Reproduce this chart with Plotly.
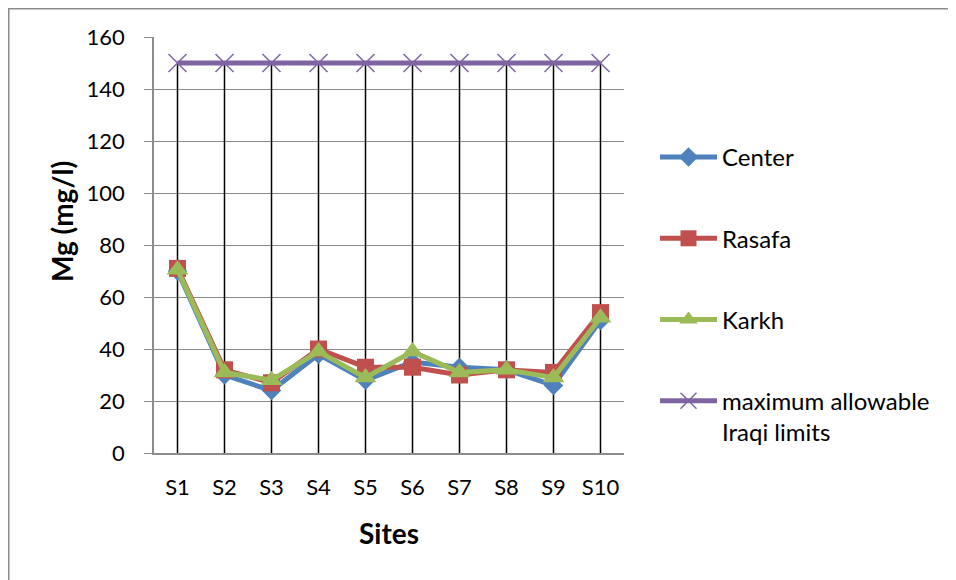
import plotly.graph_objects as go

sites = ["S1", "S2", "S3", "S4", "S5", "S6", "S7", "S8", "S9", "S10"]
center = [70, 30, 24, 38, 28, 35, 33, 32, 26, 51]
rasafa = [71, 32, 27, 40, 33, 33, 30, 32, 31, 54]
karkh = [70.5, 31, 28, 39, 29, 39, 31, 32, 29, 52]
limit = [150] * 10
yticks = [0, 20, 40, 60, 80, 100, 120, 140, 160]

FONT = "Lato"
GRID = "#8c8c8c"

fig = go.Figure()

# drop lines (from axis up to the highest value at each site)
dx, dy = [], []
for s, hi in zip(sites, [max(a, b, c, d) for a, b, c, d in zip(center, rasafa, karkh, limit)]):
    dx += [s, s, None]
    dy += [0, hi, None]
fig.add_trace(go.Scatter(x=dx, y=dy, mode="lines", line=dict(color="black", width=1.5),
                         showlegend=False, hoverinfo="skip"))

fig.add_trace(go.Scatter(x=sites, y=center, name="Center", mode="lines+markers",
                         line=dict(color="#4F81BD", width=5),
                         marker=dict(symbol="diamond", size=15, color="#4F81BD"),
                         legendgroup="a"))
fig.add_trace(go.Scatter(x=sites, y=rasafa, name="Rasafa", mode="lines+markers",
                         line=dict(color="#C0504D", width=5),
                         marker=dict(symbol="square", size=17, color="#C0504D"),
                         legendgroup="b"))
fig.add_trace(go.Scatter(x=sites, y=karkh, name="Karkh", mode="lines+markers",
                         line=dict(color="#9BBB59", width=5),
                         marker=dict(symbol="triangle-up", size=19, color="#9BBB59"),
                         legendgroup="c"))
fig.add_trace(go.Scatter(x=sites, y=limit, name="maximum allowable<br>Iraqi limits",
                         mode="lines+markers",
                         line=dict(color="#8064A2", width=5),
                         marker=dict(symbol="x-thin-open", size=18,
                                     line=dict(color="#8064A2", width=1.5)),
                         legendgroup="d"))

O = 8  # page body margin
W, H = 948, 572
L, R, T, B = 146, 332, 29, 127
pw, ph = W - L - R, H - T - B

def px_x(p):
    return (p - O - L) / pw

def px_y(p):
    return (H - B - (p - O)) / ph

fig.update_layout(
    width=W, height=H,
    margin=dict(l=L, r=R, t=T, b=B),
    paper_bgcolor="white", plot_bgcolor="white",
    font=dict(family=FONT, size=22, color="black"),
    showlegend=True,
    legend=dict(x=px_x(655), xanchor="left", y=px_y(135), yanchor="top",
                tracegroupgap=47, valign="top", font=dict(size=24), itemwidth=57,
                bgcolor="rgba(0,0,0,0)"),
    xaxis=dict(type="category", range=[-0.5, 9.5], showgrid=False, showline=True,
               linecolor=GRID, linewidth=1.5, ticks="", ticklabelstandoff=14,
               zeroline=False),
    yaxis=dict(range=[0, 160], tickvals=yticks, showgrid=True, gridcolor=GRID,
               gridwidth=1.2, showline=True, linecolor=GRID, linewidth=1.5,
               ticks="outside", ticklen=8, tickcolor=GRID, tickwidth=1.2,
               zeroline=False, ticklabelstandoff=15),
    annotations=[
        dict(text="<b>Mg (mg/l)</b>", x=px_x(62), y=px_y(222), xref="paper", yref="paper",
             textangle=-90, showarrow=False, font=dict(size=28), xanchor="center",
             yanchor="middle"),
        dict(text="<b>Sites</b>", x=px_x(389), y=px_y(533), xref="paper", yref="paper",
             showarrow=False, font=dict(size=28), xanchor="center", yanchor="middle"),
    ],
    shapes=[
        dict(type="rect", xref="paper", yref="paper", x0=px_x(8.75), y0=px_y(700),
             x1=px_x(1100), y1=px_y(8.75), line=dict(color=GRID, width=1.5),
             fillcolor="rgba(0,0,0,0)", layer="below"),
    ],
)

fig.write_html("out.html")
